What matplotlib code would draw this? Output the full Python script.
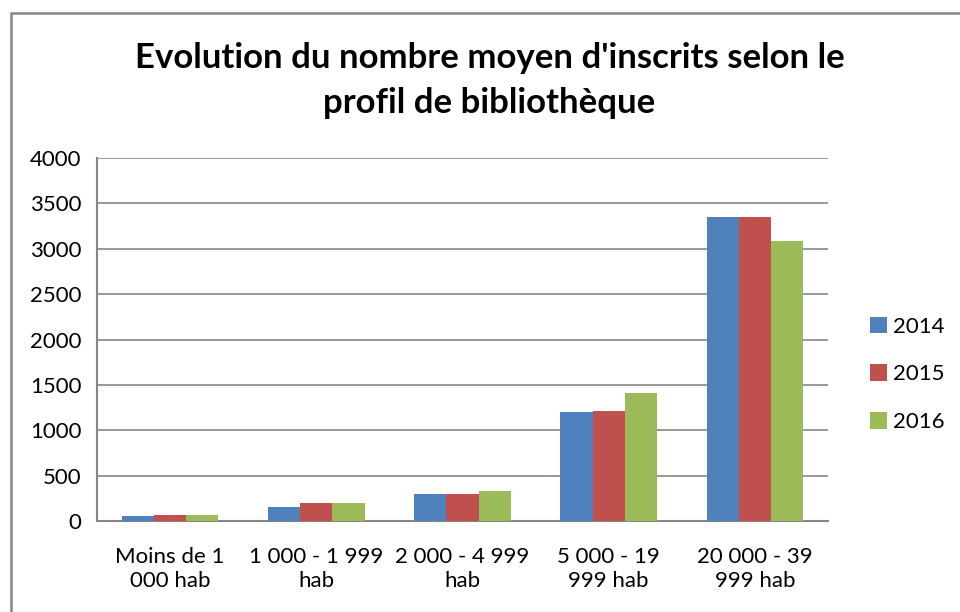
import matplotlib.pyplot as plt
import numpy as np
from matplotlib.patches import Rectangle

# ------------------- DATA -------------------
categories = ["Moins de 1\n000 hab", "1 000 - 1 999\nhab", "2 000 - 4 999\nhab",
              "5 000 - 19\n999 hab", "20 000 - 39\n999 hab"]
years = ["2014", "2015", "2016"]
v2014 = [55, 150, 300, 1200, 3345]
v2015 = [65, 200, 300, 1215, 3345]
v2016 = [65, 200, 335, 1412, 3090]
colors = ["#4f81bd", "#c0504d", "#9bbb59"]
# --------------------------------------------

plt.rcParams['font.family'] = ['Lato', 'DejaVu Sans']

fig = plt.figure(figsize=(9.6, 6.12), dpi=100)
# chart frame (right and bottom edges fall outside the picture)
fig.patches.append(Rectangle((11 / 960, -0.1), 1.2, (612 - 13) / 612 + 0.1,
                             transform=fig.transFigure, fill=False,
                             edgecolor="#868686", linewidth=1.8))

ax = fig.add_axes([97 / 960, 91 / 612, 731 / 960, 363 / 612])
x = np.arange(len(categories))
w = 0.22
for i, (vals, yr) in enumerate(zip([v2014, v2015, v2016], years)):
    ax.bar(x + (i - 1) * w, vals, width=w, color=colors[i], label=yr, zorder=3)

ax.set_xlim(-0.5, len(categories) - 0.5)
ax.set_ylim(0, 4000)
ax.set_yticks(np.arange(0, 4001, 500))
ax.yaxis.grid(True, color="#868686", linewidth=1.2, zorder=0)
ax.set_xticks(x)
ax.set_xticklabels(categories, fontsize=16, linespacing=1.25)
ax.tick_params(axis='y', labelsize=16, length=0, pad=11)
ax.tick_params(axis='x', length=0, pad=19)
for s in ["top", "right"]:
    ax.spines[s].set_visible(False)
for s in ["left", "bottom"]:
    ax.spines[s].set_color("#868686")
    ax.spines[s].set_linewidth(1.5)

fig.text(0.51, 0.905, "Evolution du nombre moyen d'inscrits selon le",
         ha="center", va="center", fontsize=25, fontweight="bold")
fig.text(0.51, 0.832, "profil de bibliothèque",
         ha="center", va="center", fontsize=25, fontweight="bold")

ax.legend(loc="center left", bbox_to_anchor=(1.03, 0.404), frameon=False,
          fontsize=16, handlelength=0.75, handleheight=0.75, labelspacing=1.25,
          handletextpad=0.3)

fig.savefig("out.png", dpi=100)
